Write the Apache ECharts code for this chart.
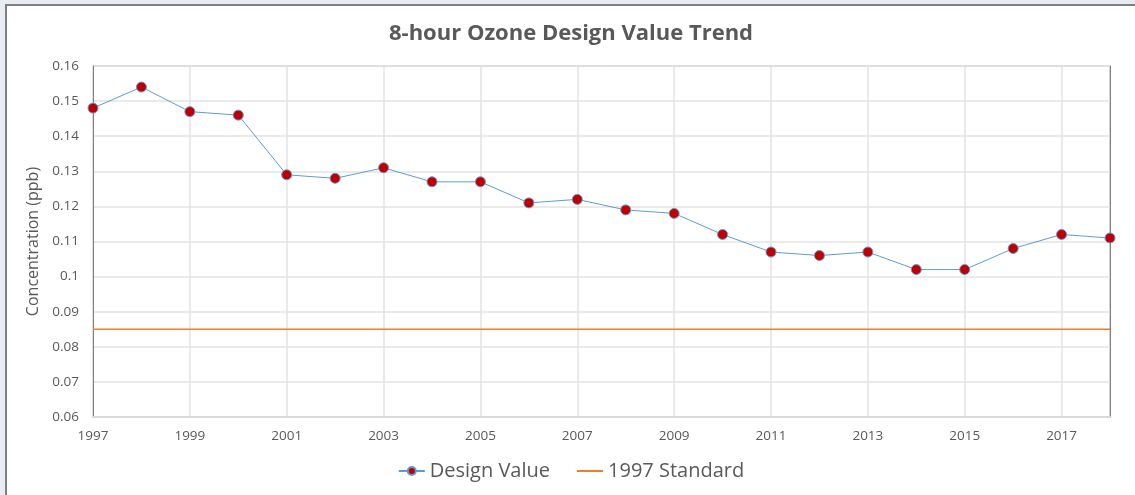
<!DOCTYPE html>
<html>
<head>
<meta charset="utf-8">
<script src="https://cdn.jsdelivr.net/npm/echarts@6/dist/echarts.min.js"></script>
<style>
html,body{margin:0;padding:0;width:1135px;height:495px;overflow:hidden;background:#e9ecf0;}
#frame{position:absolute;left:5px;top:4px;width:1130px;height:491px;background:#fff;border-left:2px solid #7f7f7f;border-top:2px solid #7f7f7f;box-sizing:border-box;}
#chart{position:absolute;left:0;top:0;width:1128px;height:489px;}
</style>
</head>
<body>
<div id="frame"><div id="chart"></div></div>
<script>
const years = ['1997','1998','1999','2000','2001','2002','2003','2004','2005','2006','2007','2008','2009','2010','2011','2012','2013','2014','2015','2016','2017','2018'];
const designValue = [0.148,0.154,0.147,0.146,0.129,0.128,0.131,0.127,0.127,0.121,0.122,0.119,0.118,0.112,0.107,0.106,0.107,0.102,0.102,0.108,0.112,0.111];
const standard1997 = [0.085,0.085,0.085,0.085,0.085,0.085,0.085,0.085,0.085,0.085,0.085,0.085,0.085,0.085,0.085,0.085,0.085,0.085,0.085,0.085,0.085,0.085];
const yTicks = {min:0.06, max:0.16, interval:0.01};

const font = '"Open Sans", "Noto Sans", sans-serif';
const chart = echarts.init(document.getElementById('chart'));
chart.setOption({
  animation:false,
  title:{text:'8-hour Ozone Design Value Trend',left:'center',top:12,
    textStyle:{fontFamily:font,fontSize:22,fontWeight:'bold',color:'#595959'}},
  legend:{bottom:9,left:'center',itemWidth:26,itemHeight:10,itemGap:26,
    textStyle:{fontFamily:font,fontSize:20,color:'#595959'},
    data:[{name:'Design Value'},{name:'1997 Standard',itemStyle:{opacity:0}}]},
  grid:{left:86,top:60,right:25,bottom:78,show:true,borderColor:'#a6a6a6',borderWidth:1},
  xAxis:{type:'category',data:years,boundaryGap:false,
    axisLine:{lineStyle:{color:'#d9d9d9',width:2}},
    axisTick:{show:false},
    axisLabel:{interval:1,fontFamily:font,fontSize:13.5,color:'#595959',margin:12},
    splitLine:{show:true,interval:1,lineStyle:{color:'#e3e3e3',width:1.5}}},
  yAxis:[{type:'value',min:yTicks.min,max:yTicks.max,interval:yTicks.interval,
    name:'Concentration (ppb)',nameLocation:'middle',nameGap:47,
    nameTextStyle:{fontFamily:font,fontSize:16,color:'#595959'},
    axisLine:{show:true,lineStyle:{color:'#7f7f7f',width:1}},
    axisTick:{show:false},
    axisLabel:{fontFamily:font,fontSize:13.5,color:'#595959',margin:14,
      formatter:v=>String(Number(v.toFixed(2)))},
    splitLine:{lineStyle:{color:'#e3e3e3',width:1.5}}},
    {type:'value',min:yTicks.min,max:yTicks.max,interval:yTicks.interval,position:'right',
    axisLine:{show:true,lineStyle:{color:'#7f7f7f',width:1}},
    axisTick:{show:false},axisLabel:{show:false},splitLine:{show:false}}],
  series:[
    {name:'Design Value',type:'line',data:designValue,symbol:'circle',symbolSize:10,
      lineStyle:{color:'#5b9bd5',width:1},
      itemStyle:{color:'#c00000',borderColor:'#5b9bd5',borderWidth:1},z:3},
    {name:'1997 Standard',type:'line',data:standard1997,symbol:'none',
      lineStyle:{color:'#ed7d31',width:1.5},itemStyle:{color:'#ed7d31'},z:2}
  ]
});
</script>
</body>
</html>
